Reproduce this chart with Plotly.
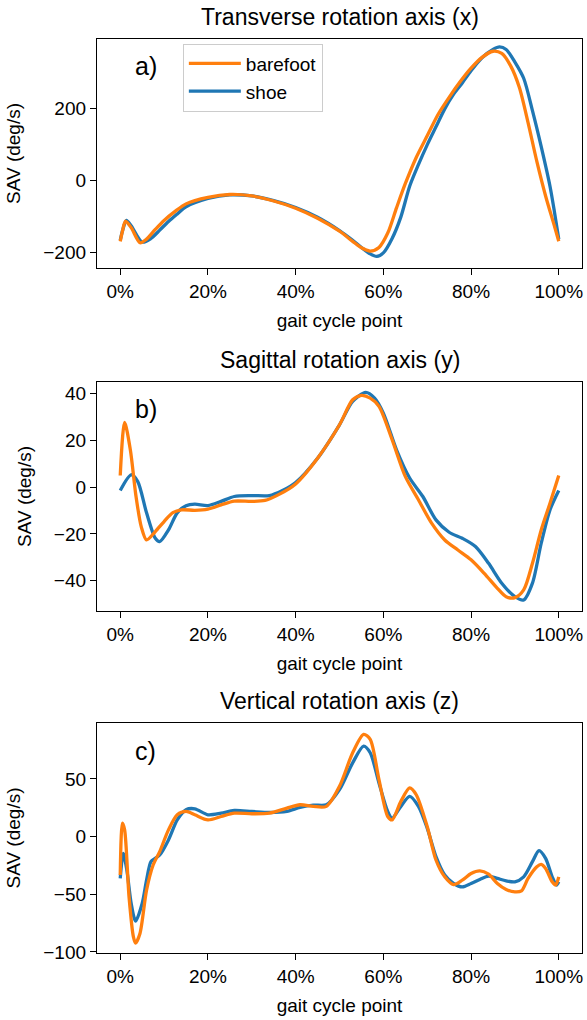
import plotly.graph_objects as go

# ---------------- data ----------------
# a) Transverse rotation axis (x)
x_a_bare = [0, 0.5, 1.2, 2.5, 4.5, 6, 8, 10, 12.5, 15, 20, 25, 30, 35, 40, 45, 50, 53, 55, 57, 59, 61, 63, 65, 67.5, 70, 72.5, 75, 77.5, 80, 82.5, 85, 87, 89, 91, 93, 95, 97, 99, 100]
y_a_bare = [-168, -140, -112, -130, -172, -162, -135, -110, -85, -64, -46, -38, -42, -56, -76, -104, -140, -168, -186, -195, -185, -145, -75, -8, 65, 125, 185, 232, 275, 313, 343, 360, 354, 320, 260, 162, 54, -42, -125, -168]
x_a_shoe = [0, 0.6, 1.4, 2.5, 5, 7, 9, 11, 13, 15, 20, 25, 30, 35, 40, 45, 50, 53, 55, 57, 58.5, 60, 62, 64, 66, 68, 70, 72, 74, 76, 78, 80, 82.5, 85, 86.5, 88, 90, 92, 94, 96, 98, 99, 100]
y_a_shoe = [-165, -135, -110, -125, -170, -160, -137, -113, -92, -72, -49, -39, -42, -55, -74, -101, -138, -165, -185, -203, -210, -200, -160, -100, -15, 45, 100, 150, 200, 240, 272, 306, 342, 365, 372, 365, 330, 285, 195, 95, -15, -85, -162]

# b) Sagittal rotation axis (y)
x_b_bare = [0, 1, 2.3, 3.6, 4.8, 6, 8, 10, 12, 14, 17, 20, 23, 26, 30, 33, 36, 40, 45, 50, 53, 55, 57, 59, 62, 65, 68, 71, 74, 77, 80, 83, 86, 88, 90, 92, 94, 96, 98, 100]
y_b_bare = [5, 27.7, 16, -4, -17, -22.6, -19, -14.7, -10.9, -9.7, -9.9, -9.4, -7.6, -6, -6.1, -5.7, -3.3, 1.4, 12.4, 26.7, 37.4, 39.3, 38.1, 34.6, 20.3, 4.6, -5.4, -15.4, -22.6, -26.9, -31.1, -36.9, -43.3, -46.9, -47.3, -44, -32.6, -18.3, -6.9, 5]
x_b_shoe = [0, 2.5, 4, 6, 8, 9, 11, 13, 15, 17, 20, 23, 26, 30, 34, 37, 40, 45, 50, 53, 56, 58, 60, 63, 66, 69, 72, 75, 78, 81, 84, 87, 90, 92, 94, 96, 98, 100]
y_b_shoe = [-1.4, 5.3, 2.4, -11, -21.9, -23.3, -18.3, -11, -8, -7.3, -7.9, -6.1, -4, -3.6, -3.6, -1.4, 2, 12.4, 26.7, 36.7, 40.6, 38.1, 31.7, 16, 3.9, -4, -14, -19.3, -21.9, -25.4, -32.6, -41.1, -46.9, -48.3, -41.1, -24, -9.7, -1.4]

# c) Vertical rotation axis (z)
x_c_bare = [0, 0.5, 1, 2, 3, 3.5, 4.5, 6, 7.5, 9, 11, 13, 15, 17, 20, 23, 26, 30, 34, 38, 41, 44, 47, 50, 53, 55.5, 57, 59, 61, 62, 64, 66, 67.5, 70, 72, 74, 76, 78, 80, 82, 84, 86, 88, 90, 91.5, 93, 95, 96, 97, 98.5, 99.3, 100]
y_c_bare = [-33.4, 11.6, 5.8, -52, -87, -92.4, -84, -46.5, -24.7, -13, 5.8, 18.9, 21.8, 18.9, 14.5, 17.4, 20.3, 19.8, 20.3, 24.7, 27.6, 26.2, 26.2, 43.6, 72.7, 88.7, 84.3, 49.4, 17.4, 14.5, 30.5, 42.2, 36.3, 8.7, -20.3, -34.9, -41.6, -37.8, -32, -29.7, -32.6, -40.7, -45.9, -48, -47.1, -36.3, -26.2, -24.1, -27.6, -39.2, -42, -34.9]
x_c_shoe = [0, 0.7, 1.5, 2.5, 3.5, 5, 6, 7, 8, 9, 11, 13, 15, 17, 20, 23, 26, 30, 34, 38, 41, 44, 47, 50, 53, 55.5, 57, 59, 61, 62, 64, 66, 68, 70, 72, 74, 76, 78, 80, 82, 84, 86, 88, 90, 92, 94, 95.5, 97, 98.5, 99.5, 100]
y_c_shoe = [-36.3, -14.5, -29, -58, -73.3, -58, -37.8, -21.8, -18.9, -16, -2.9, 14.5, 23.3, 24.1, 18.9, 20.3, 22.7, 21.8, 20.9, 21.8, 25.3, 27.3, 27.6, 40.7, 64, 78.5, 72.7, 46.5, 21.8, 16, 26.2, 34.9, 26.2, 7.3, -17.4, -33.4, -40.7, -43.6, -40.7, -37.2, -34.3, -36.3, -38.4, -39.2, -34.9, -21.8, -12.2, -18.9, -34.9, -42, -39.2]

titles = ["Transverse rotation axis (x)", "Sagittal rotation axis (y)", "Vertical rotation axis (z)"]
panel_labels = ["a)", "b)", "c)"]
x_ticks = [0, 20, 40, 60, 80, 100]
x_tick_text = ["0%", "20%", "40%", "60%", "80%", "100%"]
y_ticks = [[-200, 0, 200], [-40, -20, 0, 20, 40], [-100, -50, 0, 50]]
y_ranges = [[-242, 394], [-53, 45], [-101, 98.5]]
series_names = ["barefoot", "shoe"]

ORANGE = "#ff7f0e"
BLUE = "#1f77b4"
FONT = "Liberation Sans, Arial, sans-serif"

data = [
    (x_a_bare, y_a_bare, x_a_shoe, y_a_shoe),
    (x_b_bare, y_b_bare, x_b_shoe, y_b_shoe),
    (x_c_bare, y_c_bare, x_c_shoe, y_c_shoe),
]

domains = [[0.7495, 1.0], [0.3742, 0.6247], [0.0, 0.2516]]

fig = go.Figure()
annotations = []
for i, (xb, yb, xs, ys) in enumerate(data):
    n = "" if i == 0 else str(i + 1)
    fig.add_trace(go.Scatter(x=xs, y=ys, mode="lines", name=series_names[1],
                             line=dict(color=BLUE, width=3.3, shape="spline", smoothing=0.8),
                             xaxis="x" + n, yaxis="y" + n, showlegend=(i == 0), legendrank=2))
    fig.add_trace(go.Scatter(x=xb, y=yb, mode="lines", name=series_names[0],
                             line=dict(color=ORANGE, width=3.3, shape="spline", smoothing=0.8),
                             xaxis="x" + n, yaxis="y" + n, showlegend=(i == 0), legendrank=1))
    axis_common = dict(showline=True, mirror=True, linecolor="black", linewidth=1.3,
                       ticks="outside", ticklen=6, tickwidth=1.3, tickcolor="black",
                       showgrid=False, zeroline=False,
                       tickfont=dict(size=19, color="black", family=FONT))
    fig.update_layout(**{
        "xaxis" + n: dict(axis_common, domain=[0, 1], range=[-5.3, 105.3],
                          tickmode="array", tickvals=x_ticks, ticktext=x_tick_text,
                          anchor="y" + n,
                          title=dict(text="gait cycle point", font=dict(size=19, color="black", family=FONT), standoff=12)),
        "yaxis" + n: dict(axis_common, domain=domains[i], range=y_ranges[i],
                          tickmode="array", tickvals=y_ticks[i],
                          anchor="x" + n,
                          title=dict(text="SAV (deg/s)", font=dict(size=19, color="black", family=FONT), standoff=17)),
    })
    annotations.append(dict(text=titles[i], xref="x" + n + " domain", yref="y" + n + " domain",
                            x=0.5, y=1, yanchor="middle", xanchor="center", yshift=22, showarrow=False,
                            font=dict(size=23, color="black", family=FONT)))
    annotations.append(dict(text=panel_labels[i], xref="x" + n + " domain", yref="y" + n + " domain",
                            x=0.075, y=0.88, xanchor="left", yanchor="middle", showarrow=False,
                            font=dict(size=25, color="black", family=FONT)))

fig.update_layout(
    width=587, height=1020,
    margin=dict(l=97, r=5, t=39, b=67),
    paper_bgcolor="white", plot_bgcolor="white",
    annotations=annotations,
    legend=dict(x=0.177, y=0.995, xanchor="left", yanchor="top", itemwidth=52,
                bordercolor="#cccccc", borderwidth=1, bgcolor="rgba(255,255,255,0.8)",
                font=dict(size=19, color="black", family=FONT), traceorder="normal"),
    font=dict(family=FONT, color="black"),
)

fig.write_html("out.html", config={"displayModeBar": False},
               post_script="document.body.style.margin='0';")
